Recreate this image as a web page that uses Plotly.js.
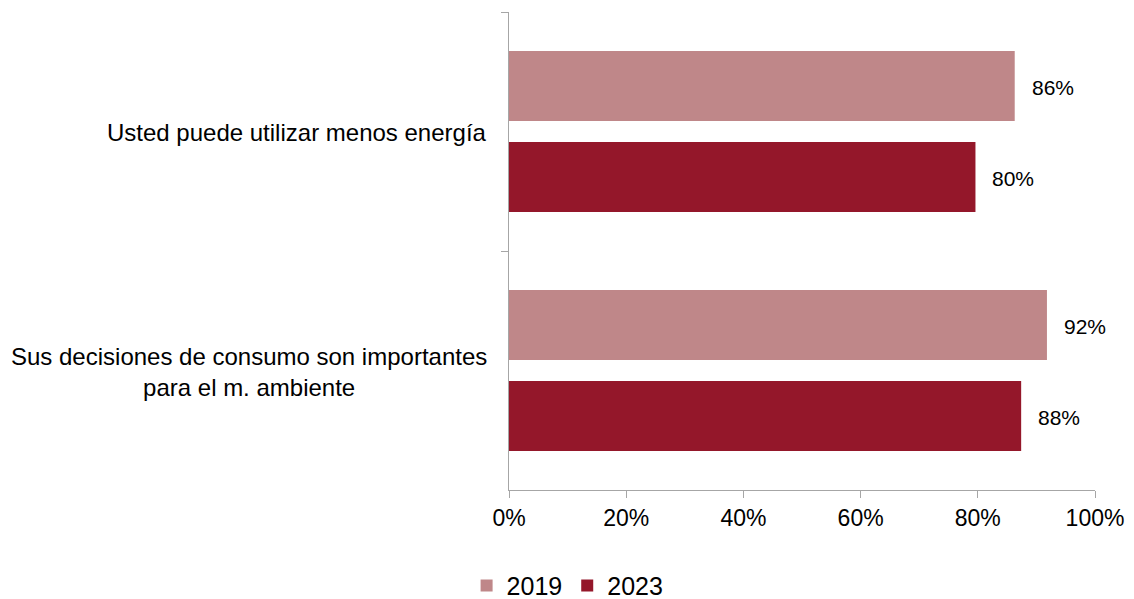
<!DOCTYPE html>
<html>
<head>
<meta charset="utf-8">
<script src="https://cdn.plot.ly/plotly-3.0.1.min.js"></script>
<style>html,body{margin:0;padding:0;background:#fff;}#chart{width:1134px;height:599px;}</style>
</head>
<body>
<div id="chart"></div>
<script>
const categories = ["Usted puede utilizar menos energía", "Sus decisiones de consumo son importantes<br>para el m. ambiente"];
const seriesNames = ["2019", "2023"];
const values2019 = [0.863, 0.918];
const values2023 = [0.796, 0.874];
const labels2019 = ["86%", "92%"];
const labels2023 = ["80%", "88%"];
const xTickVals = [0, 0.2, 0.4, 0.6, 0.8, 1.0];
const xTickText = ["0%", "20%", "40%", "60%", "80%", "100%"];
const colors = ["#BF8789", "#94172A"];

const FONT = "Liberation Sans, Arial, Helvetica, sans-serif";
const series = [values2019, values2023];
const seriesLabels = [labels2019, labels2023];

const traces = series.map((vals, i) => ({
  type: "bar",
  orientation: "h",
  name: seriesNames[i],
  y: categories,
  x: vals,
  marker: {color: colors[i]},
  hoverinfo: "skip"
}));

const annotations = [];
series.forEach((vals, i) => {
  vals.forEach((v, j) => {
    annotations.push({
      x: v, y: categories[j], xref: "x", yref: "y",
      text: seriesLabels[i][j], showarrow: false,
      xanchor: "left", xshift: 15,
      yshift: (i === 0 ? 1 : -1) * 45.5 - 1,
      font: {family: FONT, size: 21, color: "#000"}
    });
  });
});
categories.forEach((c) => {
  annotations.push({
    x: 0, y: c, xref: "paper", yref: "y",
    text: c, showarrow: false, xanchor: "right", align: "center",
    xshift: -20, yshift: -1,
    font: {family: FONT, size: 24, color: "#000"}
  });
});

const layout = {
  width: 1134, height: 599,
  margin: {l: 509, r: 39, t: 12, b: 109, autoexpand: false},
  paper_bgcolor: "#fff", plot_bgcolor: "#fff",
  barmode: "group",
  bargap: 0.2385,
  bargroupgap: 0.231,
  showlegend: true,
  legend: {
    orientation: "h", x: 0.1, xanchor: "center", y: -0.152, yanchor: "top",
    font: {family: FONT, size: 25, color: "#000"},
    traceorder: "normal", itemwidth: 30
  },
  xaxis: {
    range: [0, 1], tickvals: xTickVals, ticktext: xTickText,
    showgrid: false, zeroline: false,
    showline: true, linecolor: "#A6A6A6", linewidth: 1,
    ticks: "outside", ticklen: 7, tickcolor: "#A6A6A6",
    tickfont: {family: FONT, size: 23, color: "#000"},
    fixedrange: true
  },
  yaxis: {
    type: "category", autorange: "reversed",
    showticklabels: false, showgrid: false, zeroline: false,
    showline: true, linecolor: "#A6A6A6", linewidth: 1,
    ticks: "outside", ticklen: 7, tickcolor: "#A6A6A6",
    tickson: "boundaries",
    fixedrange: true
  },
  annotations: annotations
};

Plotly.newPlot("chart", traces, layout, {displayModeBar: false, staticPlot: true});
</script>
</body>
</html>
